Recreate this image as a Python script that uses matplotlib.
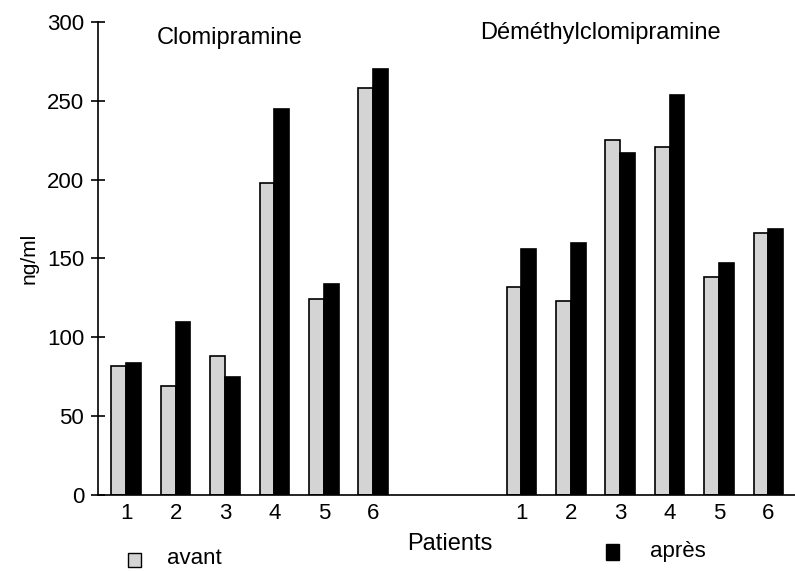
import numpy as np
import matplotlib.pyplot as plt
from matplotlib.patches import Rectangle

plt.rcParams['font.family'] = ['Liberation Sans', 'DejaVu Sans']

# données (ng/ml)
patients = ['1', '2', '3', '4', '5', '6']
clomi_avant = [82, 69, 88, 198, 124, 258]
clomi_apres = [84, 110, 75, 245, 134, 270]
desmethyl_avant = [132, 123, 225, 221, 138, 166]
desmethyl_apres = [156, 160, 217, 254, 147, 169]

fig = plt.figure(figsize=(7.95, 5.71), dpi=100)
ax = fig.add_axes([0.1233, 0.1331, 0.8767, 0.8284])

w = 0.3
x1 = np.arange(6)
x2 = np.arange(6) + 8
gris = '#d4d4d4'

ax.bar(x1 - w / 2, clomi_avant, w, color=gris, edgecolor='black', linewidth=1.2)
ax.bar(x1 + w / 2, clomi_apres, w, color='black', edgecolor='black', linewidth=1.2)
ax.bar(x2 - w / 2, desmethyl_avant, w, color=gris, edgecolor='black', linewidth=1.2)
ax.bar(x2 + w / 2, desmethyl_apres, w, color='black', edgecolor='black', linewidth=1.2)

ax.set_xlim(-0.57, 13.54)
ax.set_ylim(0, 300)
ax.set_yticks(range(0, 301, 50))
ax.set_xticks(np.concatenate([x1, x2]))
ax.set_xticklabels(patients + patients)
ax.tick_params(axis='y', direction='inout', length=10, width=1.2, labelsize=16, pad=5)
ax.tick_params(axis='x', length=0, labelsize=16, pad=6)
ax.spines['top'].set_visible(False)
ax.spines['right'].set_visible(False)
ax.spines['left'].set_linewidth(1.2)
ax.spines['bottom'].set_linewidth(1.2)
ax.set_ylabel('ng/ml', fontsize=15, labelpad=6)

# titres des deux groupes
ax.text(2.1, 290, 'Clomipramine', fontsize=17, ha='center', va='center')
ax.text(9.6, 293, 'Déméthylclomipramine', fontsize=17, ha='center', va='center')

# légende et titre de l'axe x
fig.text(450 / 795, 1 - 544 / 571, 'Patients', fontsize=17, ha='center', va='center')
fig.patches.append(Rectangle((128 / 795, 1 - 567 / 571), 13 / 795, 14 / 571,
                             transform=fig.transFigure, facecolor=gris,
                             edgecolor='black', linewidth=1))
fig.text(167 / 795, 1 - 558 / 571, 'avant', fontsize=16, ha='left', va='center')
fig.patches.append(Rectangle((606 / 795, 1 - 560 / 571), 13 / 795, 16 / 571,
                             transform=fig.transFigure, facecolor='black',
                             edgecolor='black', linewidth=1))
fig.text(650 / 795, 1 - 551 / 571, 'après', fontsize=16, ha='left', va='center')

fig.savefig('out.png', dpi=100)
